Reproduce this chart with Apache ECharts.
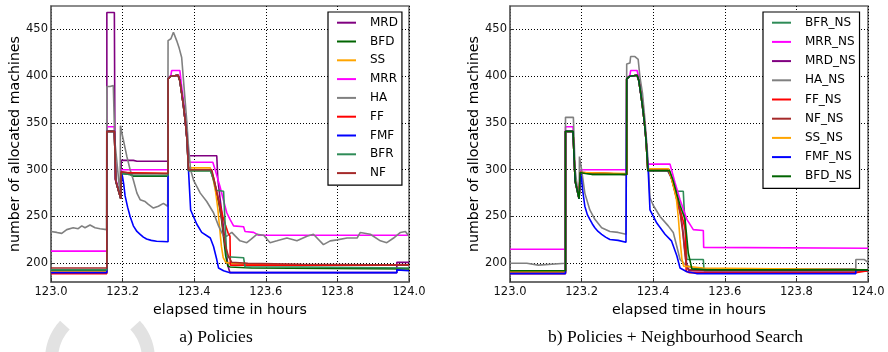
<!DOCTYPE html>
<html>
<head>
<meta charset="utf-8">
<script src="https://cdn.jsdelivr.net/npm/echarts@6/dist/echarts.min.js"></script>
<style>html,body{margin:0;padding:0;background:#fff;}#c{width:888px;height:352px;}</style>
</head>
<body>
<div id="c"></div>
<script>
// ---------- data (elapsed hours, allocated machines) ----------
const xTicks = [123.0, 123.2, 123.4, 123.6, 123.8, 124.0];
const yTicks = [200, 250, 300, 350, 400, 450];

const leftNames = ['MRD','BFD','SS','MRR','HA','FF','FMF','BFR','NF'];
const rightNames = ['BFR_NS','MRR_NS','MRD_NS','HA_NS','FF_NS','NF_NS','SS_NS','FMF_NS','BFD_NS'];

const MRD = [[123.0,191],[123.156,191],[123.156,468],[123.177,468],[123.179,290],[123.195,270],[123.196,310],[123.23,310],[123.24,309],[123.327,309],[123.327,397],[123.335,400],[123.355,401],[123.36,396],[123.365,383],[123.37,370],[123.375,352],[123.38,333],[123.384,315],[123.463,315],[123.466,290],[123.472,270],[123.478,252],[123.484,230],[123.49,210],[123.495,196],[123.5,190],[123.966,190],[123.966,201],[124.0,201]];
const BFD = [[123.0,192],[123.156,192],[123.156,341],[123.177,341],[123.181,288],[123.195,269],[123.196,296],[123.22,295],[123.23,293],[123.327,293],[123.327,397],[123.335,400],[123.355,401],[123.36,395],[123.365,382],[123.37,368],[123.375,352],[123.38,332],[123.384,299],[123.446,299],[123.455,288],[123.462,275],[123.47,262],[123.476,248],[123.482,228],[123.488,208],[123.494,197],[123.5,196],[123.56,195],[124.0,194]];
const SS = [[123.0,191],[123.156,191],[123.156,341],[123.177,341],[123.181,288],[123.195,269],[123.196,297],[123.327,296],[123.327,397],[123.335,400],[123.355,401],[123.36,395],[123.365,382],[123.37,368],[123.375,352],[123.38,332],[123.384,302],[123.445,302],[123.452,292],[123.46,276],[123.466,258],[123.471,238],[123.476,218],[123.481,206],[123.488,201],[123.5,200],[123.6,198],[124.0,198]];
const MRR = [[123.0,213],[123.156,213],[123.156,346],[123.177,346],[123.181,290],[123.195,270],[123.196,300],[123.327,300],[123.327,398],[123.335,401],[123.337,406],[123.36,406],[123.364,392],[123.37,374],[123.375,356],[123.38,336],[123.385,308],[123.452,308],[123.46,298],[123.472,282],[123.48,270],[123.491,254],[123.5,247],[123.51,240],[123.538,239],[123.542,234],[123.566,233],[123.58,230],[124.0,230]];
const HA = [[123.0,234],[123.016,233],[123.03,232],[123.044,236],[123.062,238],[123.076,237],[123.086,240],[123.095,238],[123.109,241],[123.123,238],[123.137,237],[123.155,236],[123.156,389],[123.165,389],[123.174,390],[123.178,332],[123.188,293],[123.193,272],[123.194,347],[123.202,332],[123.212,314],[123.221,300],[123.23,289],[123.24,275],[123.249,268],[123.263,266],[123.272,263],[123.286,259],[123.3,261],[123.314,264],[123.326,261],[123.327,438],[123.335,440],[123.342,447],[123.351,438],[123.358,430],[123.365,420],[123.37,396],[123.379,353],[123.384,325],[123.39,300],[123.398,289],[123.417,275],[123.435,266],[123.454,254],[123.468,240],[123.482,229],[123.491,229],[123.505,233],[123.515,229],[123.528,224],[123.547,222],[123.56,226],[123.575,231],[123.594,230],[123.612,222],[123.631,224],[123.659,227],[123.687,224],[123.715,229],[123.733,231],[123.761,220],[123.78,224],[123.799,225],[123.827,227],[123.855,227],[123.864,233],[123.892,231],[123.92,224],[123.938,222],[123.957,227],[123.976,233],[123.99,234],[124.0,229]];
const FF = [[123.0,189],[123.156,189],[123.156,341],[123.177,341],[123.181,288],[123.195,269],[123.196,297],[123.327,296],[123.327,397],[123.335,400],[123.355,401],[123.36,395],[123.365,382],[123.37,368],[123.375,352],[123.38,332],[123.384,300],[123.447,300],[123.455,290],[123.463,276],[123.472,262],[123.48,250],[123.488,240],[123.495,232],[123.5,229],[123.501,198],[124.0,198]];
const FMF = [[123.0,190],[123.156,190],[123.156,341],[123.177,341],[123.181,288],[123.195,269],[123.197,297],[123.2,292],[123.203,285],[123.207,272],[123.214,260],[123.221,250],[123.23,240],[123.24,234],[123.249,231],[123.258,228],[123.267,226],[123.28,224.5],[123.295,223.5],[123.327,223],[123.327,397],[123.335,400],[123.355,401],[123.36,395],[123.365,382],[123.37,368],[123.375,352],[123.38,332],[123.384,300],[123.39,257],[123.398,250],[123.407,242],[123.421,233],[123.445,227],[123.454,218],[123.463,204],[123.468,195],[123.482,192],[123.5,190],[123.966,190],[123.966,193],[124.0,192]];
const BFR = [[123.0,193],[123.156,193],[123.156,341],[123.177,341],[123.181,288],[123.195,269],[123.196,296],[123.22,295],[123.23,294],[123.327,294],[123.327,397],[123.335,400],[123.355,401],[123.36,395],[123.365,382],[123.37,368],[123.375,352],[123.38,332],[123.384,299],[123.446,299],[123.455,288],[123.462,278],[123.482,277],[123.486,245],[123.491,207],[123.538,206],[123.542,196],[123.7,196],[124.0,195]];
const NF = [[123.0,195],[123.156,195],[123.156,341],[123.177,341],[123.181,288],[123.195,269],[123.196,298],[123.21,297],[123.22,296],[123.327,296],[123.327,397],[123.335,400],[123.355,401],[123.36,395],[123.365,382],[123.37,368],[123.375,352],[123.38,332],[123.384,300],[123.449,300],[123.458,285],[123.468,268],[123.477,247],[123.486,220],[123.496,207],[123.505,201],[123.55,200],[123.7,199],[124.0,198]];

const BFR_NS = [[123.0,192],[123.155,192],[123.155,341],[123.176,341],[123.182,288],[123.193,269],[123.196,297],[123.22,296],[123.23,295],[123.326,295],[123.326,397],[123.335,400],[123.355,401],[123.36,395],[123.365,382],[123.37,368],[123.375,352],[123.38,332],[123.385,299],[123.44,299],[123.45,292],[123.458,282],[123.464,277],[123.484,277],[123.489,240],[123.494,204],[123.54,204],[123.542,192],[124.0,192]];
const MRR_NS = [[123.0,215],[123.155,215],[123.155,346],[123.176,346],[123.182,290],[123.193,270],[123.196,300],[123.326,300],[123.326,398],[123.335,401],[123.337,406],[123.355,406],[123.36,398],[123.365,386],[123.37,372],[123.375,355],[123.38,335],[123.385,306],[123.447,306],[123.461,286],[123.475,268],[123.494,247],[123.512,236],[123.54,235],[123.541,217],[124.0,216]];
const MRD_NS = [[123.0,190],[123.155,190],[123.155,341],[123.176,341],[123.182,288],[123.193,269],[123.196,297],[123.326,295],[123.326,397],[123.335,400],[123.355,401],[123.36,395],[123.365,382],[123.37,368],[123.375,352],[123.38,332],[123.385,299],[123.442,299],[123.452,290],[123.46,278],[123.468,266],[123.476,254],[123.482,238],[123.488,215],[123.494,198],[123.5,192],[124.0,192]];
const HA_NS = [[123.0,200],[123.047,200],[123.047,198],[123.079,198],[123.079,200],[123.155,200],[123.155,356],[123.177,356],[123.182,300],[123.19,275],[123.193,272],[123.194,314],[123.2,300],[123.209,275],[123.223,257],[123.237,247],[123.256,238],[123.279,234],[123.302,233],[123.324,231],[123.326,413],[123.335,414],[123.337,421],[123.349,421],[123.358,418],[123.363,399],[123.37,382],[123.377,353],[123.384,318],[123.387,300],[123.391,270],[123.4,262],[123.419,250],[123.442,240],[123.456,233],[123.466,218],[123.475,204],[123.489,199],[123.508,195],[123.54,194],[123.966,194],[123.966,204],[123.99,204],[124.0,201]];
const FF_NS = [[123.0,189],[123.155,189],[123.155,341],[123.176,341],[123.182,288],[123.193,269],[123.196,297],[123.326,295],[123.326,397],[123.335,400],[123.355,401],[123.36,395],[123.365,382],[123.37,368],[123.375,352],[123.38,332],[123.385,300],[123.443,300],[123.452,290],[123.46,278],[123.468,266],[123.476,256],[123.484,245],[123.49,235],[123.492,192],[123.5,190],[123.966,190],[123.966,192],[124.0,192]];
const NF_NS = [[123.0,191],[123.155,191],[123.155,341],[123.176,341],[123.182,288],[123.193,269],[123.196,297],[123.326,295],[123.326,397],[123.335,400],[123.355,401],[123.36,395],[123.365,382],[123.37,368],[123.375,352],[123.38,332],[123.385,300],[123.444,300],[123.452,290],[123.46,278],[123.468,265],[123.476,252],[123.483,232],[123.49,205],[123.496,194],[123.505,193],[124.0,193]];
const SS_NS = [[123.0,191],[123.155,191],[123.155,341],[123.176,341],[123.182,288],[123.193,269],[123.196,297],[123.326,296],[123.326,397],[123.335,400],[123.355,401],[123.36,395],[123.365,382],[123.37,368],[123.375,352],[123.38,332],[123.385,301],[123.443,301],[123.45,292],[123.458,280],[123.465,268],[123.47,250],[123.475,225],[123.48,205],[123.485,197],[123.49,196],[123.54,195],[123.545,193],[124.0,193]];
const FMF_NS = [[123.0,189],[123.155,189],[123.155,341],[123.176,341],[123.182,288],[123.193,269],[123.197,297],[123.2,290],[123.203,278],[123.209,261],[123.216,252],[123.223,247],[123.23,242],[123.237,238],[123.246,234],[123.256,231],[123.267,228],[123.279,225.5],[123.302,224.5],[123.324,222.5],[123.326,397],[123.335,400],[123.355,401],[123.36,395],[123.365,382],[123.37,368],[123.375,352],[123.38,332],[123.386,300],[123.391,257],[123.41,243],[123.433,231],[123.451,224],[123.466,208],[123.475,195],[123.494,191],[123.521,189],[123.966,189],[123.966,193],[124.0,193]];
const BFD_NS = [[123.0,192],[123.155,192],[123.155,341],[123.176,341],[123.182,288],[123.193,269],[123.196,297],[123.21,296],[123.23,295],[123.326,295],[123.326,397],[123.335,400],[123.355,401],[123.36,395],[123.365,382],[123.37,368],[123.375,352],[123.38,332],[123.385,299],[123.446,299],[123.456,288],[123.466,274],[123.475,262],[123.489,247],[123.498,211],[123.508,194],[123.55,193],[124.0,193]];

const leftData = [MRD, BFD, SS, MRR, HA, FF, FMF, BFR, NF];
const rightData = [BFR_NS, MRR_NS, MRD_NS, HA_NS, FF_NS, NF_NS, SS_NS, FMF_NS, BFD_NS];
const colorOf = {MRD:'#800080', BFD:'#006400', SS:'#FFA500', MRR:'#FF00FF', HA:'#808080', FF:'#FF0000', FMF:'#0000FF', BFR:'#2E8B57', NF:'#A52A2A'};

// ---------- chart ----------
const FONT = 'DejaVu Sans';
const chart = echarts.init(document.getElementById('c'), null, {renderer: 'canvas'});

function xAxisCfg(i) {
  return {
    type: 'value', gridIndex: i, min: 123, max: 124, interval: 0.2,
    name: 'elapsed time in hours', nameLocation: 'middle', nameGap: 18,
    nameTextStyle: {fontFamily: FONT, fontSize: 14.2, color: '#000'},
    axisLine: {show: true, lineStyle: {color: '#666', width: 1.5}},
    axisTick: {show: true, inside: true, length: 4, lineStyle: {color: '#333'}},
    axisLabel: {fontFamily: FONT, fontSize: 11.5, color: '#111', margin: 4, formatter: v => v.toFixed(1)},
    splitLine: {show: true, lineStyle: {color: '#000', type: [1, 2], width: 1}}
  };
}
function yAxisCfg(i) {
  return {
    type: 'value', gridIndex: i, min: 180, max: 475,
    name: 'number of allocated machines', nameLocation: 'middle', nameGap: 28,
    nameTextStyle: {fontFamily: FONT, fontSize: 14.2, color: '#000'},
    axisLine: {show: true, lineStyle: {color: '#666', width: 1.5}},
    axisTick: {show: true, inside: true, length: 4, customValues: yTicks, lineStyle: {color: '#333'}},
    axisLabel: {fontFamily: FONT, fontSize: 11.5, color: '#111', margin: 3, customValues: yTicks},
    splitLine: {show: true, lineStyle: {color: '#000', type: [1, 2], width: 1}}
  };
}
function legendCfg(names, left, gap) {
  return {
    data: names, orient: 'vertical', left: left, top: 12,
    icon: 'rect', itemWidth: 19, itemHeight: 2, itemGap: gap,
    padding: [3.7, 4, 5, 9], borderColor: '#000', borderWidth: 1.2, backgroundColor: '#fff',
    selectedMode: false,
    itemStyle: {borderWidth: 0},
    textStyle: {fontFamily: FONT, fontSize: 12, color: '#000', lineHeight: 14, padding: [0, 0, 0, 9]}
  };
}

const series = [];
leftNames.forEach((n, k) => series.push({
  name: n, type: 'line', xAxisIndex: 0, yAxisIndex: 0, data: leftData[k],
  showSymbol: false, symbol: 'none', color: colorOf[n], lineStyle: {width: 1.6}
}));
rightNames.forEach((n, k) => series.push({
  name: n, type: 'line', xAxisIndex: 1, yAxisIndex: 1, data: rightData[k],
  showSymbol: false, symbol: 'none', color: colorOf[n.replace('_NS', '')], lineStyle: {width: 1.6}
}));

// decorative watermark ring fragments (page background, not data)
function arcPoints(a0, a1) {
  const pts = [];
  for (let k = 0; k <= 30; k++) {
    const a = a0 + (a1 - a0) * k / 30;
    pts.push([100 + 48.4 * Math.cos(a), 358.5 + 48.4 * Math.sin(a)]);
  }
  return pts;
}

chart.setOption({
  animation: false,
  backgroundColor: '#fff',
  grid: [
    {left: 51, top: 6, width: 358, height: 276, show: true, borderColor: '#666', borderWidth: 1.5, backgroundColor: 'transparent'},
    {left: 510, top: 6, width: 358, height: 276, show: true, borderColor: '#666', borderWidth: 1.5, backgroundColor: 'transparent'}
  ],
  xAxis: [xAxisCfg(0), xAxisCfg(1)],
  yAxis: [yAxisCfg(0), yAxisCfg(1)],
  legend: [legendCfg(leftNames, 328, 4.8), legendCfg(rightNames, 763, 5.2)],
  series: series,
  graphic: {
    elements: [
      {id: 'ringL', type: 'polyline', silent: true, shape: {points: arcPoints(2.5, 3.9)}, style: {stroke: '#e2e2e2', lineWidth: 13, fill: null}},
      {id: 'ringR', type: 'polyline', silent: true, scaleX: -1, originX: 100, originY: 0, shape: {points: arcPoints(2.5, 3.9)}, style: {stroke: '#e2e2e2', lineWidth: 13, fill: null}},
      {id: 'capA', type: 'text', x: 216, y: 337, style: {text: 'a) Policies', font: '17.5px "Liberation Serif"', fill: '#000', textAlign: 'center', textVerticalAlign: 'middle'}},
      {id: 'capB', type: 'text', x: 675.5, y: 337, style: {text: 'b) Policies + Neighbourhood Search', font: '17.5px "Liberation Serif"', fill: '#000', textAlign: 'center', textVerticalAlign: 'middle'}}
    ]
  }
});
</script>
</body>
</html>
